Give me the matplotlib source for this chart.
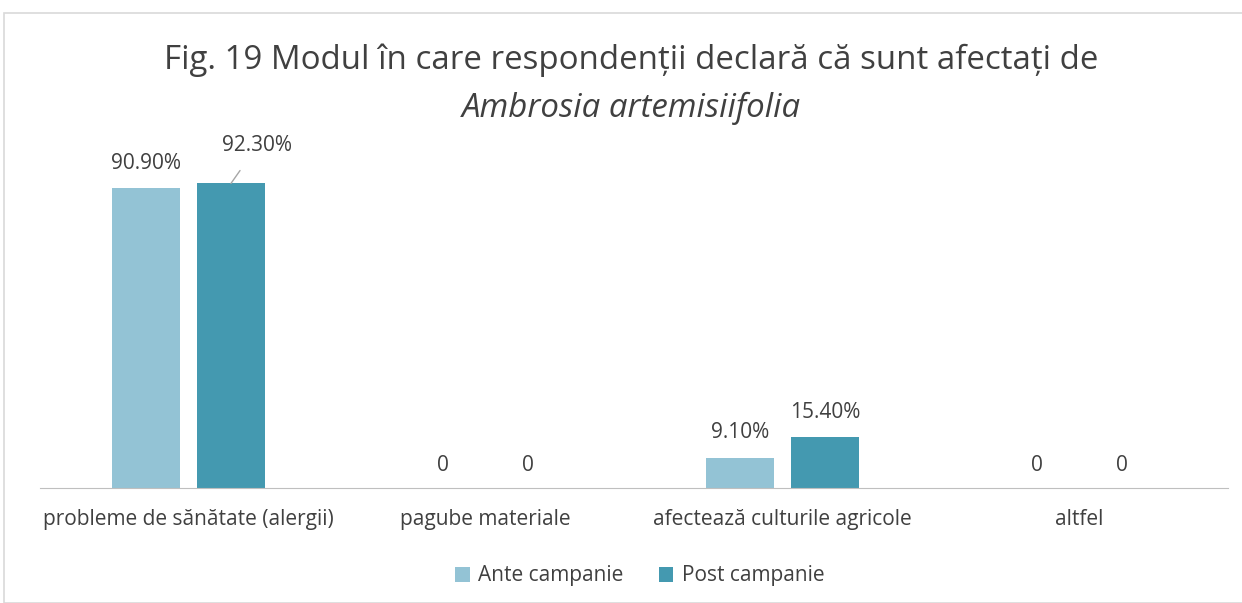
import numpy as np
import matplotlib.pyplot as plt
from matplotlib.patches import Rectangle

categories = ["probleme de sănătate (alergii)", "pagube materiale",
              "afectează culturile agricole", "altfel"]
ante = [90.9, 0, 9.1, 0]
post = [92.3, 0, 15.4, 0]
ante_labels = ["90.90%", "0", "9.10%", "0"]
post_labels = ["92.30%", "0", "15.40%", "0"]
series_names = ["Ante campanie", "Post campanie"]

c_ante = "#93C3D5"
c_post = "#4499B0"
txt = "#404040"

plt.rcParams["font.family"] = ["Open Sans", "DejaVu Sans"]

fig = plt.figure(figsize=(12.42, 6.03), dpi=100)
# chart frame
fig.patches.append(Rectangle((4 / 1242, 0), 1.0, 590 / 603, transform=fig.transFigure,
                             fill=False, edgecolor="#D9D9D9", linewidth=1.2))

ax = fig.add_axes([40 / 1242, 115 / 603, 1188 / 1242, 330 / 603])
x = np.arange(len(categories))
w = 0.226
off = 0.143
ax.bar(x - off, ante, w, color=c_ante, label=series_names[0])
ax.bar(x + off, post, w, color=c_post, label=series_names[1])

ax.set_xlim(-0.5, len(categories) - 0.5)
ax.set_ylim(0, 100)
for s in ["top", "right", "left"]:
    ax.spines[s].set_visible(False)
ax.spines["bottom"].set_color("#BFBFBF")
ax.set_yticks([])
ax.set_xticks(x)
ax.set_xticklabels(categories, fontsize=15, color=txt)
ax.tick_params(axis="x", length=0, pad=15)

fs = 15
for i in range(len(categories)):
    ax.annotate(ante_labels[i], (x[i] - off, ante[i]), xytext=(0, 18 if ante[i] else 16),
                textcoords="offset points", ha="center", va="center", fontsize=fs, color=txt)
    if i == 0:
        ax.annotate(post_labels[i], (x[i] + off, post[i]), xytext=(19, 27),
                    textcoords="offset points", ha="center", va="center", fontsize=fs,
                    color=txt,
                    arrowprops=dict(arrowstyle="-", color="#A6A6A6", lw=1,
                                    shrinkA=10, shrinkB=0))
    else:
        ax.annotate(post_labels[i], (x[i] + off, post[i]), xytext=(0, 18 if post[i] else 16),
                    textcoords="offset points", ha="center", va="center", fontsize=fs,
                    color=txt)

fig.text(0.508, 543 / 603, "Fig. 19 Modul în care respondenții declară că sunt afectați de",
         ha="center", va="center", fontsize=23.8, color=txt)
fig.text(0.508, 495 / 603, "Ambrosia artemisiifolia", ha="center", va="center",
         fontsize=23.8, color=txt, style="italic")

fig.legend(loc="center", bbox_to_anchor=(0.515, 27 / 603), ncol=2, frameon=False,
           fontsize=15, labelcolor=txt, handlelength=0.7, handleheight=0.7,
           columnspacing=1.7, handletextpad=0.4)

fig.savefig("out.png", dpi=100)
